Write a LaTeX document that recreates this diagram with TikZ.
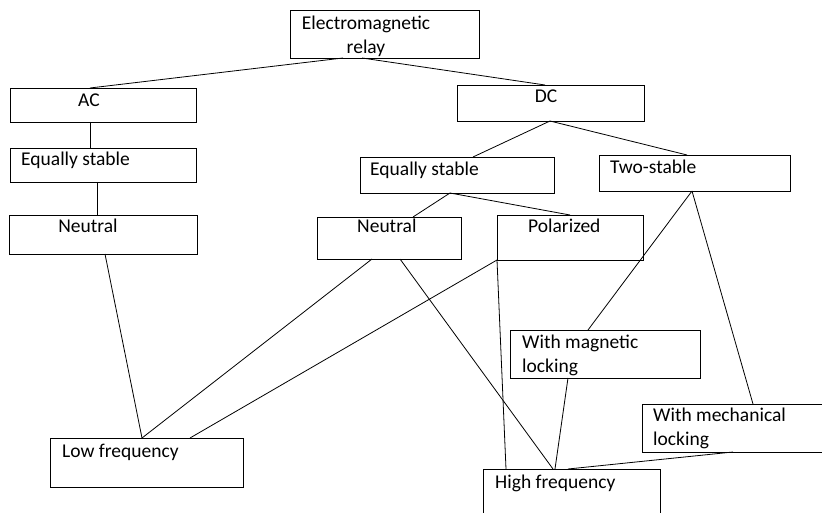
\documentclass[tikz,border=0pt]{standalone}
\usepackage{fontspec}
\setmainfont{Carlito}
\usepackage{tikz}

\begin{document}
\begin{tikzpicture}[x=1pt, y=-1pt,
    box/.style={draw, rectangle, line width=0.9pt, inner sep=0pt, outer sep=0pt, anchor=north west},
    txt/.style={inner sep=0pt, font=\fontsize{19.5}{24}\selectfont},
    link/.style={line width=0.8pt}]
            \clip (0,0) rectangle (822,513);
            \fill[white] (0,0) rectangle (822,513);

            % boxes
            \node [box, minimum width=189pt, minimum height=48pt] (em) at (290,10) {};
            \node [box, minimum width=186pt, minimum height=34pt] (ac) at (10,88) {};
            \node [box, minimum width=186pt, minimum height=34pt] (eqa) at (10,148) {};
            \node [box, minimum width=188pt, minimum height=39pt] (neua) at (9,215) {};
            \node [box, minimum width=187pt, minimum height=36pt] (dc) at (457,85) {};
            \node [box, minimum width=194pt, minimum height=36pt] (eqd) at (360,157) {};
            \node [box, minimum width=191pt, minimum height=36pt] (two) at (599,155) {};
            \node [box, minimum width=144pt, minimum height=42pt] (neud) at (317,217) {};
            \node [box, minimum width=146pt, minimum height=45pt] (pol) at (497,215) {};
            \node [box, minimum width=190pt, minimum height=48pt] (mag) at (510,330) {};
            \node [box, minimum width=180pt, minimum height=48pt] (mech) at (642,404) {};
            \node [box, minimum width=193pt, minimum height=49pt] (low) at (50,438) {};
            \node [box, minimum width=177pt, minimum height=60pt] (high) at (483,469) {};

            % texts
            \node [txt, anchor=north, align=center] (emtext) at (366,16) {Electromagnetic\\relay};
            \node [txt, anchor=base] (actext) at (89,107) {AC};
            \node [txt, anchor=base west] (eqatext) at (21,166) {Equally stable};
            \node [txt, anchor=base] (neuatext) at (88,233) {Neutral};
            \node [txt, anchor=base] (dctext) at (546,103) {DC};
            \node [txt, anchor=base west] (eqdtext) at (370,176) {Equally stable};
            \node [txt, anchor=base west] (twotext) at (610,174) {Two-stable};
            \node [txt, anchor=base west] (neudtext) at (357,233) {Neutral};
            \node [txt, anchor=base west] (poltext) at (528,233) {Polarized};
            \node [txt, anchor=north west, align=left] (magtext) at (522,335) {With magnetic\\locking};
            \node [txt, anchor=north west, align=left] (mechtext) at (653,408) {With mechanical\\locking};
            \node [txt, anchor=base west] (lowtext) at (62,457) {Low frequency};
            \node [txt, anchor=base west] (hightext) at (495,488) {High frequency};

            % links
            \draw [link] ([xshift=53pt]em.south west) -- ([xshift=80pt]ac.north west);
            \draw [link] ([xshift=72pt]em.south west) -- ([xshift=88pt]dc.north west);
            \draw [link] ([xshift=80pt]ac.south west) -- ([xshift=80pt]eqa.north west);
            \draw [link] ([xshift=87pt]eqa.south west) -- ([xshift=88pt]neua.north west);
            \draw [link] ([xshift=93pt]dc.south west) -- ([xshift=113pt]eqd.north west);
            \draw [link] ([xshift=93pt]dc.south west) -- ([xshift=88pt]two.north west);
            \draw [link] ([xshift=90pt]eqd.south west) -- ([xshift=96pt]neud.north west);
            \draw [link] ([xshift=90pt]eqd.south west) -- ([xshift=73pt]pol.north west);
            \draw [link] ([xshift=93pt]two.south west) -- ([xshift=78pt]mag.north west);
            \draw [link] ([xshift=93pt]two.south west) -- ([xshift=111pt]mech.north west);
            \draw [link] ([xshift=96pt]neua.south west) -- ([xshift=92pt]low.north west);
            \draw [link] ([xshift=55pt]neud.south west) -- ([xshift=92pt]low.north west);
            \draw [link] (pol.south west) -- ([xshift=140pt]low.north west);
            \draw [link] ([xshift=83pt]neud.south west) -- ([xshift=70pt]high.north west);
            \draw [link] (pol.south west) -- ([xshift=23pt]high.north west);
            \draw [link] ([xshift=58pt]mag.south west) -- ([xshift=72pt]high.north west);
            \draw [link] ([xshift=91pt]mech.south west) -- ([xshift=85pt]high.north west);
\end{tikzpicture}
\end{document}
